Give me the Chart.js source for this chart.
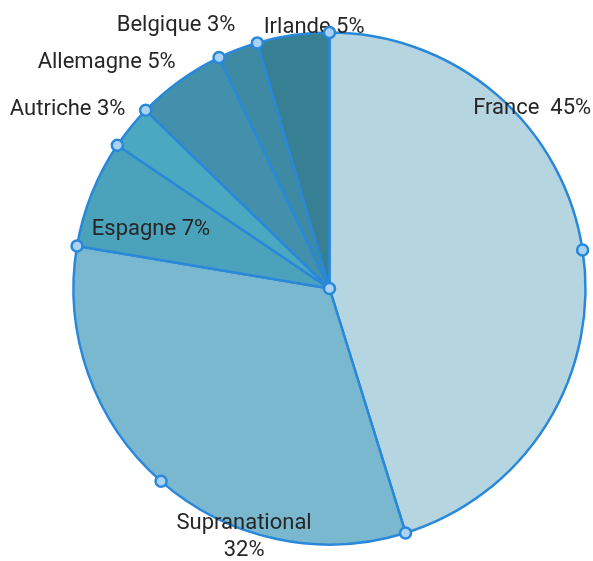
<!DOCTYPE html>
<html>
<head>
<meta charset="utf-8">
<script src="https://cdn.jsdelivr.net/npm/chart.js@4"></script>
<style>
html,body{margin:0;padding:0;background:#fff;}
#wrap{width:593px;height:561px;position:relative;}
</style>
</head>
<body>
<div id="wrap"><canvas id="c" width="593" height="561"></canvas></div>
<script>
const categories = ['France', 'Supranational', 'Espagne', 'Autriche', 'Allemagne', 'Belgique', 'Irlande'];
const shares = [45.2, 32.45, 6.8, 2.8, 5.65, 2.55, 4.55];
const labelTexts = [['France  45%'], ['Supranational', '32%'], ['Espagne 7%'], ['Autriche 3%'], ['Allemagne 5%'], ['Belgique 3%'], ['Irlande 5%']];

const sliceColors = ['#b5d5e1', '#7ab8cf', '#4ba2bb', '#4ba8c1', '#4290ab', '#3d8aa2', '#377f93'];
// label placement: angle (fraction of slice from its start) and radius factor
const labelPlace = [
  {f: 0.297, r: 1.06},
  {f: 0.31, r: 1.028},
  {f: 0.353, r: 0.734},
  {f: 0.027, r: 1.238},
  {f: 0.065, r: 1.24},
  {f: -0.514, r: 1.189},
  {f: 0.794, r: 1.023}
];

const overlay = {
  id: 'overlay',
  afterDatasetsDraw(chart) {
    const ctx = chart.ctx;
    const arcs = chart.getDatasetMeta(0).data;
    const cx = arcs[0].x, cy = arcs[0].y, R = arcs[0].outerRadius;
    // labels
    ctx.save();
    ctx.font = '22px Roboto';
    ctx.fillStyle = '#262626';
    ctx.textAlign = 'center';
    ctx.textBaseline = 'middle';
    arcs.forEach((a, i) => {
      const p = labelPlace[i];
      const ang = a.startAngle + (a.endAngle - a.startAngle) * p.f;
      const x = cx + Math.cos(ang) * R * p.r;
      const y = cy + Math.sin(ang) * R * p.r;
      const lines = labelTexts[i];
      const lh = 27;
      lines.forEach((t, k) => {
        ctx.fillText(t, x, y + (k - (lines.length - 1) / 2) * lh);
      });
    });
    ctx.restore();
    // points
    const pts = [[cx, cy]];
    arcs.forEach((a) => {
      pts.push([cx + Math.cos(a.endAngle) * R, cy + Math.sin(a.endAngle) * R]);
      if (a.endAngle - a.startAngle > Math.PI / 2) {
        const m = (a.startAngle + a.endAngle) / 2;
        pts.push([cx + Math.cos(m) * R, cy + Math.sin(m) * R]);
      }
    });
    ctx.save();
    ctx.lineWidth = 2.5;
    ctx.strokeStyle = '#2a88da';
    ctx.fillStyle = '#aad2f4';
    pts.forEach(([x, y]) => {
      ctx.beginPath();
      ctx.arc(x, y, 5.5, 0, Math.PI * 2);
      ctx.fill();
      ctx.stroke();
    });
    ctx.restore();
  }
};

new Chart(document.getElementById('c'), {
  type: 'pie',
  data: {
    labels: categories,
    datasets: [{
      data: shares,
      backgroundColor: sliceColors,
      borderColor: '#2a88da',
      borderWidth: 2.5,
      borderAlign: 'center',
      radius: 256
    }]
  },
  options: {
    responsive: false,
    animation: false,
    layout: {padding: {left: 66, right: 0, top: 16, bottom: 0}},
    plugins: {legend: {display: false}, tooltip: {enabled: false}}
  },
  plugins: [overlay]
});
</script>
</body>
</html>
